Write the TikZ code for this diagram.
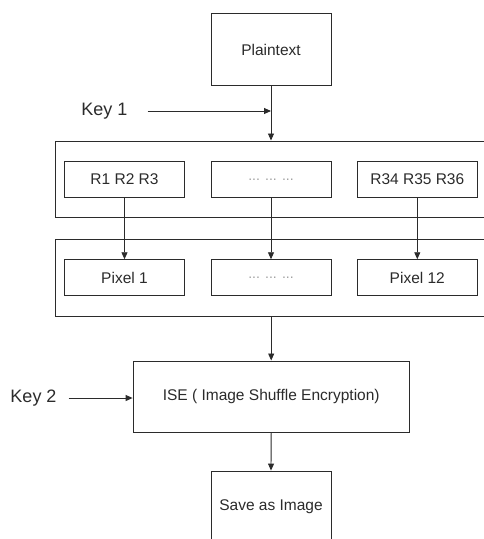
\documentclass[tikz,border=0pt]{standalone}
\usepackage{fontspec}
\setmainfont{Liberation Sans}
\usetikzlibrary{arrows.meta}
\definecolor{ink}{HTML}{2B2B2B}
\definecolor{dotgray}{HTML}{A0A0A0}
\tikzset{
  box/.style={draw=ink, line width=0.9pt, rectangle, inner sep=0pt, text=ink,
    font=\fontsize{15.5}{18}\selectfont},
  groupbox/.style={draw=ink, line width=0.9pt, rectangle, inner sep=0pt},
  keylabel/.style={inner sep=0pt, text=ink, font=\fontsize{18}{21}\selectfont},
  arr/.style={draw=ink, line width=0.9pt, -{Triangle[length=7pt,width=6pt]}},
  dotsbox/.style={box, text=dotgray, font=\fontsize{14}{16}\selectfont}
}
\begin{document}
\begin{tikzpicture}[x=1pt,y=-1pt]
\useasboundingbox (0,0) rectangle (484,539);
\clip (0,0) rectangle (484,539);
\fill[white] (0,0) rectangle (484,539);

\node[box, minimum width=120pt, minimum height=72.5pt] (plain) at (271,49.5) {Plaintext};

\node[keylabel] (key1) at (104.5,111) {Key 1};
\coordinate (k1in) at (271,111);

\node[groupbox, minimum width=435pt, minimum height=76.7pt] (g1) at (272.5,179.3) {};
\node[box, minimum width=120pt, minimum height=35.6pt] (r1) at (124.5,179.5) {R1 R2 R3};
\node[dotsbox, minimum width=120pt, minimum height=35.6pt] (rm) at (271,179.5) {... ... ...};
\node[box, minimum width=120pt, minimum height=35.6pt] (r3) at (417.3,179.5) {R34 R35 R36};

\node[groupbox, minimum width=435pt, minimum height=76.7pt] (g2) at (272.5,277.7) {};
\node[box, minimum width=120pt, minimum height=36pt] (p1) at (124.5,277.7) {Pixel 1};
\node[dotsbox, minimum width=120pt, minimum height=36pt] (pm) at (271,277.7) {... ... ...};
\node[box, minimum width=120pt, minimum height=36pt] (p3) at (417.3,277.7) {Pixel 12};

\node[box, minimum width=276.3pt, minimum height=71.7pt] (ise) at (271.2,396.8) {ISE ( Image Shuffle Encryption)};
\node[keylabel] (key2) at (33.5,398) {Key 2};

\node[box, minimum width=120pt, minimum height=72pt] (save) at (271,507) {Save as Image};

% connectors
\draw[arr] (plain.south) -- (plain.south |- g1.north);
\draw[arr, shorten <=20pt] (key1.east) -- (k1in);
\draw[arr] (r1.south) -- (p1.north);
\draw[arr] (rm.south) -- (pm.north);
\draw[arr] (r3.south) -- (p3.north);
\draw[arr] (g2.south -| ise.north) -- (ise.north);
\draw[arr, shorten <=12pt] (key2.east) -- (key2.east -| ise.west);
\draw[arr] (ise.south) -- (save.north);
\end{tikzpicture}
\end{document}
